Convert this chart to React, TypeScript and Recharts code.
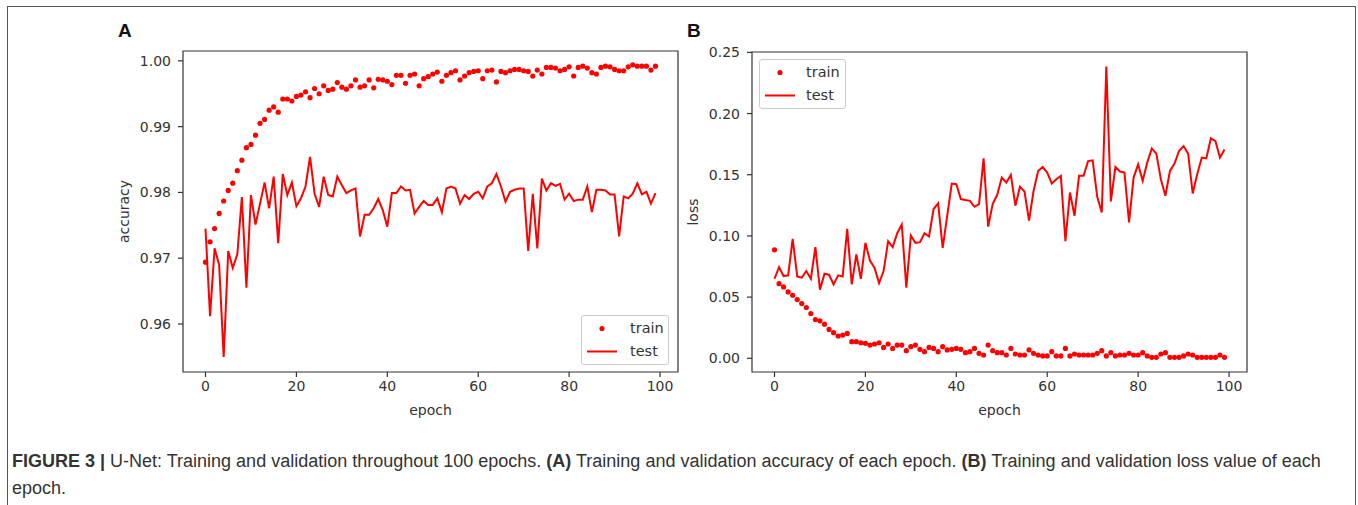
import React from "react";
import {
  ComposedChart,
  Legend,
  Line,
  ReferenceArea,
  Scatter,
  XAxis,
  YAxis,
} from "recharts";

// epochs on the x axis
const epochs = Array.from({ length: 100 }, (_, i) => i);
const epochTicks = [0, 20, 40, 60, 80, 100];
const seriesNames = ["train", "test"];

const accTicks = [0.96, 0.97, 0.98, 0.99, 1.0];
const lossTicks = [0, 0.05, 0.1, 0.15, 0.2, 0.25];

const trainAcc = [
  0.9694, 0.9725, 0.9745, 0.9768, 0.9787, 0.9803, 0.9814, 0.9833, 0.9849, 0.9868,
  0.9873, 0.9887, 0.9905, 0.9911, 0.9925, 0.993, 0.9922, 0.9942, 0.9942, 0.9939,
  0.9946, 0.9948, 0.9953, 0.9944, 0.9958, 0.995, 0.9962, 0.9955, 0.9957, 0.9967,
  0.996, 0.9957, 0.9962, 0.9971, 0.996, 0.9962, 0.9971, 0.9959, 0.9972, 0.9971,
  0.9969, 0.9964, 0.9978, 0.9978, 0.9966, 0.9978, 0.998, 0.9962, 0.9973, 0.9976,
  0.998, 0.9983, 0.9969, 0.9978, 0.9982, 0.9985, 0.9971, 0.9977, 0.9982, 0.9984,
  0.9985, 0.9973, 0.9985, 0.9986, 0.9968, 0.9984, 0.9982, 0.9985, 0.9987, 0.9987,
  0.9985, 0.9984, 0.9977, 0.9986, 0.998, 0.999, 0.999, 0.9989, 0.9985, 0.9987,
  0.9991, 0.9977, 0.999, 0.9992, 0.9989, 0.9982, 0.998, 0.999, 0.9992, 0.9991,
  0.9987, 0.9985, 0.9985, 0.9991, 0.9994, 0.9992, 0.9992, 0.9992, 0.9986, 0.9992,
];

const testAcc = [
  0.9745, 0.9612, 0.9715, 0.969, 0.955, 0.9711, 0.9685, 0.9706, 0.9793, 0.9655,
  0.9796, 0.9751, 0.9783, 0.9815, 0.9776, 0.9824, 0.9723, 0.9828, 0.9796, 0.9815,
  0.9779, 0.9791, 0.9809, 0.9854, 0.9798, 0.9778, 0.9824, 0.9796, 0.9794, 0.9824,
  0.9811, 0.9799, 0.9803, 0.9806, 0.9733, 0.9766, 0.9766, 0.9776, 0.979, 0.9773,
  0.9748, 0.9799, 0.9799, 0.9809, 0.9803, 0.9804, 0.9768, 0.9778, 0.9787, 0.9781,
  0.9781, 0.9791, 0.977, 0.9806, 0.9809, 0.9806, 0.9783, 0.9796, 0.979, 0.9798,
  0.9801, 0.9791, 0.9809, 0.9814, 0.9828, 0.9809, 0.9786, 0.9801, 0.9804, 0.9806,
  0.9806, 0.9711, 0.9798, 0.9715, 0.9821, 0.9803, 0.9814, 0.981, 0.9813, 0.9789,
  0.9798, 0.9787, 0.9789, 0.9789, 0.9809, 0.977, 0.9804, 0.9804, 0.9803, 0.9797,
  0.9797, 0.9733, 0.9794, 0.9791, 0.9798, 0.9814, 0.9797, 0.9801, 0.9783, 0.9799,
];

const trainLoss = [
  0.0886, 0.061, 0.0583, 0.0542, 0.0515, 0.048, 0.0447, 0.0415, 0.0366, 0.0317,
  0.0306, 0.0279, 0.0236, 0.0209, 0.0182, 0.019, 0.0203, 0.0136, 0.0136, 0.0127,
  0.0122, 0.0108, 0.0117, 0.0127, 0.0089, 0.0117, 0.0081, 0.0108, 0.0108, 0.0062,
  0.0095, 0.0108, 0.0073, 0.0054, 0.0089, 0.0081, 0.0054, 0.0095, 0.0068, 0.0073,
  0.0081, 0.0073, 0.0046, 0.0054, 0.0081, 0.0041, 0.0027, 0.0108, 0.0062, 0.0046,
  0.0046, 0.0027, 0.0081, 0.0035, 0.0027, 0.0027, 0.0068, 0.0041, 0.0027, 0.0019,
  0.0019, 0.0054, 0.0019, 0.0019, 0.0081, 0.0019, 0.0035, 0.0027, 0.0027, 0.0027,
  0.0027, 0.0041, 0.0062, 0.0019, 0.0046, 0.0019, 0.0027, 0.0027, 0.0041, 0.0027,
  0.0027, 0.0046, 0.0019, 0.0008, 0.0008, 0.0035, 0.0046, 0.0008, 0.0008, 0.0008,
  0.0019, 0.0035, 0.0027, 0.0008, 0.0008, 0.0008, 0.0008, 0.0008, 0.0027, 0.0008,
];

const testLoss = [
  0.065, 0.0745, 0.0672, 0.0678, 0.0976, 0.0669, 0.0659, 0.0713, 0.065, 0.0908,
  0.0561, 0.0691, 0.0683, 0.0604, 0.0678, 0.0669, 0.1057, 0.0604, 0.0848, 0.065,
  0.0943, 0.0799, 0.074, 0.0615, 0.0713, 0.0957, 0.0908, 0.1022, 0.1092, 0.0577,
  0.1003, 0.0943, 0.0949, 0.1022, 0.0995, 0.122, 0.1266, 0.0902, 0.1165, 0.1428,
  0.1423, 0.1301, 0.1293, 0.1287, 0.1238, 0.126, 0.1634, 0.1076, 0.126, 0.1336,
  0.1477, 0.1436, 0.1499, 0.1247, 0.1401, 0.1363, 0.1125, 0.1369, 0.1531, 0.1564,
  0.1518, 0.1428, 0.1463, 0.1491, 0.0957, 0.1355, 0.1165, 0.1491, 0.1491, 0.1612,
  0.1618, 0.132, 0.1192, 0.2385, 0.1282, 0.1564, 0.1526, 0.1518, 0.1111, 0.1477,
  0.1585, 0.145, 0.1599, 0.1715, 0.1672, 0.1463, 0.1328, 0.1531, 0.1591, 0.1694,
  0.1734, 0.1672, 0.1347, 0.1504, 0.164, 0.1634, 0.1797, 0.1775, 0.164, 0.1707,
];

const RED = "#ff0000";
const INK = "#333333";
const MPL_FONT = "DejaVu Sans, sans-serif";

const accData = epochs.map((e, i) => ({ epoch: e, train: trainAcc[i], test: testAcc[i] }));
const lossData = epochs.map((e, i) => ({ epoch: e, train: trainLoss[i], test: testLoss[i] }));

const X_DOMAIN: [number, number] = [-4.95, 103.95];

// matplotlib-ish legend box, train first then test
function MplLegend({ payload, markerX, textX }: any) {
  const items = [...(payload || [])].sort(
    (a: any, b: any) => seriesNames.indexOf(a.value) - seriesNames.indexOf(b.value)
  );
  return (
    <div
      style={{
        border: "1px solid #cccccc",
        borderRadius: 3,
        background: "#fff",
        fontFamily: MPL_FONT,
        fontSize: 14.5,
        color: INK,
        padding: "1px 0",
        boxSizing: "border-box",
      }}
    >
      {items.map((entry: any) => (
        <div key={entry.value} style={{ position: "relative", height: 23 }}>
          <svg width={40} height={23} style={{ position: "absolute", left: 0, top: 0 }}>
            {entry.value === "test" ? (
              <line x1={markerX - 15} x2={markerX + 15} y1={11.5} y2={11.5} stroke={RED} strokeWidth={2} />
            ) : (
              <circle cx={markerX} cy={11.5} r={2.6} fill={RED} />
            )}
          </svg>
          <span style={{ position: "absolute", left: textX, top: 2, lineHeight: "18px" }}>
            {entry.value}
          </span>
        </div>
      ))}
    </div>
  );
}

const dotShape = (p: any) => <circle cx={p.cx} cy={p.cy} r={2.6} fill={RED} />;

type PanelProps = {
  data: { epoch: number; train: number; test: number }[];
  yDomain: [number, number];
  yTicks: number[];
  yLabel: string;
  yAxisWidth: number;
  yLabelOffset: number;
  marginRight: number;
  marginTop: number;
  legendPos: { left: number; top: number; width: number; markerX: number; textX: number };
};

function Panel({ data, yDomain, yTicks, yLabel, yAxisWidth, yLabelOffset, marginRight, marginTop, legendPos }: PanelProps) {
  const tickStyle = { fontFamily: MPL_FONT, fontSize: 14, fill: INK };
  return (
    <ComposedChart
      width={600}
      height={400}
      data={data}
      margin={{ top: marginTop, right: marginRight, bottom: 23, left: 0 }}
    >
      <XAxis
        dataKey="epoch"
        type="number"
        domain={X_DOMAIN}
        ticks={epochTicks}
        allowDataOverflow
        height={45}
        tick={tickStyle}
        tickSize={5}
        tickMargin={4}
        axisLine={false}
        tickLine={{ stroke: INK, strokeWidth: 1.2 }}
        label={{ value: "epoch", position: "insideBottom", offset: 2, style: tickStyle }}
      />
      <YAxis
        type="number"
        domain={yDomain}
        ticks={yTicks}
        allowDataOverflow
        width={yAxisWidth}
        tick={tickStyle}
        tickSize={5}
        tickMargin={7}
        axisLine={false}
        tickLine={{ stroke: INK, strokeWidth: 1.2 }}
        tickFormatter={(v: number) => v.toFixed(2)}
        label={{
          value: yLabel,
          angle: -90,
          position: "insideLeft",
          offset: yLabelOffset,
          style: { ...tickStyle, textAnchor: "middle" },
        }}
      />
      <ReferenceArea
        x1={X_DOMAIN[0]}
        x2={X_DOMAIN[1]}
        y1={yDomain[0]}
        y2={yDomain[1]}
        fill="none"
        fillOpacity={0}
        stroke={INK}
        strokeWidth={1.2}
        ifOverflow="visible"
      />
      <Scatter name="train" dataKey="train" fill={RED} shape={dotShape} isAnimationActive={false} />
      <Line
        name="test"
        dataKey="test"
        type="linear"
        stroke={RED}
        strokeWidth={2}
        dot={false}
        activeDot={false}
        isAnimationActive={false}
      />
      <Legend
        layout="vertical"
        align="center"
        verticalAlign="middle"
        width={legendPos.width}
        wrapperStyle={{ left: legendPos.left, top: legendPos.top, width: legendPos.width }}
        content={(props: any) => (
          <MplLegend payload={props.payload} markerX={legendPos.markerX} textX={legendPos.textX} />
        )}
      />
    </ComposedChart>
  );
}

export default function App() {
  return (
    <div
      style={{
        position: "fixed",
        left: 0,
        top: 0,
        width: 1358,
        height: 505,
        background: "#fff",
        overflow: "hidden",
      }}
    >
      <div
        style={{
          position: "absolute",
          left: 7,
          top: 6,
          width: 1347,
          height: 520,
          borderLeft: "1.5px solid #555",
          borderTop: "1.5px solid #555",
          borderRight: "1.5px solid #555",
        }}
      />
      <div style={{ position: "absolute", left: 100, top: 40 }}>
        <Panel
          data={accData}
          yDomain={[0.9527, 1.0015]}
          yTicks={accTicks}
          yLabel="accuracy"
          yAxisWidth={83}
          yLabelOffset={24}
          marginRight={22}
          marginTop={11}
          legendPos={{ left: 481, top: 275, width: 88, markerX: 20, textX: 48 }}
        />
      </div>
      <div style={{ position: "absolute", left: 660, top: 40 }}>
        <Panel
          data={lossData}
          yDomain={[-0.0112, 0.2503]}
          yTicks={lossTicks}
          yLabel="loss"
          yAxisWidth={92}
          yLabelOffset={33}
          marginRight={13}
          marginTop={12}
          legendPos={{ left: 99, top: 19, width: 87, markerX: 20, textX: 46 }}
        />
      </div>
      <div
        style={{
          position: "absolute",
          left: 118,
          top: 20,
          fontFamily: "Liberation Sans, Arial, sans-serif",
          fontWeight: 700,
          fontSize: 19,
          color: "#111",
        }}
      >
        A
      </div>
      <div
        style={{
          position: "absolute",
          left: 687,
          top: 20,
          fontFamily: "Liberation Sans, Arial, sans-serif",
          fontWeight: 700,
          fontSize: 19,
          color: "#111",
        }}
      >
        B
      </div>
      <div
        style={{
          position: "absolute",
          left: 12,
          top: 448,
          width: 1340,
          fontFamily: "Liberation Sans, Arial, sans-serif",
          fontSize: 18,
          lineHeight: "27px",
          color: "#333",
          whiteSpace: "nowrap",
        }}
      >
        <b>FIGURE 3 |</b> U-Net: Training and validation throughout 100 epochs. <b>(A)</b> Training and
        validation accuracy of each epoch. <b>(B)</b> Training and validation loss value of each
        <br />
        epoch.
      </div>
    </div>
  );
}
